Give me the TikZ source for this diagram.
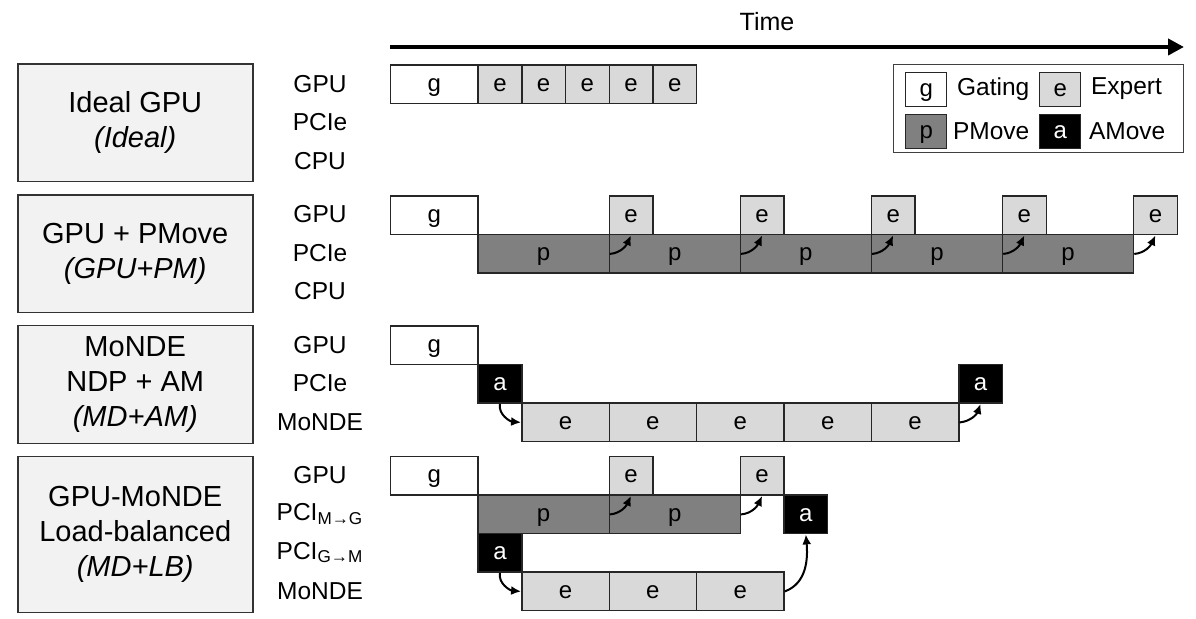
\documentclass[tikz,border=0pt]{standalone}
\usepackage{fontspec}
\setmainfont{Liberation Sans}
\usepackage{tikz}
\usetikzlibrary{arrows.meta}

\tikzset{
  blk/.style={draw=black!85, line width=0.7pt, anchor=north west, inner sep=0pt,
    minimum height=19.25pt, text height=6.6pt, text depth=0pt,
    font=\fontsize{12}{12}\selectfont},
  w1/.style={minimum width=21.85pt},
  w2/.style={minimum width=43.7pt},
  w3/.style={minimum width=65.55pt},
  gate/.style={blk, w2, fill=white},
  expert/.style={blk, fill=black!15},
  pmove/.style={blk, fill=black!50},
  amove/.style={blk, w1, fill=black, text=white},
  mode/.style={draw=black!80, line width=0.75pt, fill=black!5, anchor=north west,
    minimum width=117.5pt, align=center, inner sep=0pt,
    font=\fontsize{14.5}{17.5}\selectfont},
  lane/.style={font=\fontsize{12.25}{12.25}\selectfont},
  flow/.style={-{Latex[length=5pt,width=4.5pt]}, line width=1pt},
  key/.style={blk, minimum width=20.5pt, minimum height=17pt}
}

\begin{document}
\begin{tikzpicture}[x=0.5pt, y=-0.5pt]
\useasboundingbox (0,0) rectangle (1196,619);

% Time axis
\coordinate (T0) at (390,47);
\coordinate (T1) at (1184,47);
\draw[line width=2pt, -{Triangle[length=8pt,width=8pt]}] (T0) -- (T1);
\node[font=\fontsize{12.5}{12.5}\selectfont] (time) at (767,22) {Time};

% Modes on the left
\node[mode, minimum height=58.75pt] (m1) at (17,63.5) {Ideal GPU\\\textit{(Ideal)}};
\node[mode, minimum height=58.75pt] (m2) at (17,194.5) {GPU + PMove\\\textit{(GPU+PM)}};
\node[mode, minimum height=59pt] (m3) at (17,325) {MoNDE\\NDP + AM\\\textit{(MD+AM)}};
\node[mode, minimum height=78pt] (m4) at (17,456) {GPU-MoNDE\\Load-balanced\\\textit{(MD+LB)}};

% Lane labels
\node[lane] (l11) at (320,84) {GPU};
\node[lane] (l12) at (320,122.5) {PCIe};
\node[lane] (l13) at (320,161) {CPU};
\node[lane] (l21) at (320,214.5) {GPU};
\node[lane] (l22) at (320,253) {PCIe};
\node[lane] (l23) at (320,291.5) {CPU};
\node[lane] (l31) at (320,345) {GPU};
\node[lane] (l32) at (320,383.5) {PCIe};
\node[lane] (l33) at (320,422) {MoNDE};
\node[lane] (l41) at (320,475.5) {GPU};
\node[lane] (l42) at (320,514) {PCI\textsubscript{M→G}};
\node[lane] (l43) at (320,552.5) {PCI\textsubscript{G→M}};
\node[lane] (l44) at (320,591) {MoNDE};

% Ideal
\node[gate] (ig) at (390,64.5) {g};
\foreach \i in {0,...,4}
  \node[expert, w1] (ie\i) at ({477.4+43.7*\i},64.5) {e};

% GPU + PMove
\node[gate] (pg) at (390,195.5) {g};
\foreach \i in {1,...,5} {
  \node[pmove, w3] (pp\i) at ({477.4+131.1*(\i-1)},234) {p};
  \node[expert, w1] (pe\i) at ({608.5+131.1*(\i-1)},195.5) {e};
}
\foreach \i in {1,...,5}
  \draw[flow] (pp\i.east) to[out=5, in=-115] (pe\i.south);

% MoNDE + AMove
\node[gate] (mg) at (390,325.5) {g};
\node[amove] (ma1) at (477.4,364) {a};
\foreach \i in {1,...,5}
  \node[expert, w2] (me\i) at ({521.1+87.4*(\i-1)},402.5) {e};
\node[amove] (ma2) at (958.1,364) {a};
\draw[flow] (ma1.south) to[out=-100, in=175] (me1.west);
\draw[flow] (me5.east) to[out=5, in=-110] (ma2.south);

% GPU-MoNDE load-balanced
\node[gate] (lg) at (390,456) {g};
\node[pmove, w3] (lp1) at (477.4,494.5) {p};
\node[pmove, w3] (lp2) at (608.5,494.5) {p};
\node[expert, w1] (le1) at (608.5,456) {e};
\node[expert, w1] (le2) at (739.6,456) {e};
\node[amove] (la1) at (477.4,533) {a};
\node[amove] (la2) at (783.3,494.5) {a};
\foreach \i in {1,...,3}
  \node[expert, w2] (lm\i) at ({521.1+87.4*(\i-1)},571.5) {e};
\draw[flow] (lp1.east) to[out=5, in=-115] (le1.south);
\draw[flow] (lp2.east) to[out=5, in=-115] (le2.south);
\draw[flow] (la1.south) to[out=-100, in=175] (lm1.west);
\draw[flow] (lm3.east) to[out=20, in=-85] (la2.south);

% Legend
\node[draw=black!75, line width=0.7pt, anchor=north west, minimum width=145pt,
  minimum height=44pt, inner sep=0pt] (leg) at (893,64) {};
\node[key, fill=white] (kg) at (905,72) {g};
\node[lane, anchor=west] (kgt) at (950,89) {Gating};
\node[key, fill=black!15] (ke) at (1039,72) {e};
\node[lane, anchor=west] (ket) at (1084,89) {Expert};
\node[key, fill=black!50] (kp) at (905,114) {p};
\node[lane, anchor=west] (kpt) at (946,131.5) {PMove};
\node[key, fill=black, text=white] (ka) at (1039,114) {a};
\node[lane, anchor=west] (kat) at (1082,131.5) {AMove};
\end{tikzpicture}
\end{document}
